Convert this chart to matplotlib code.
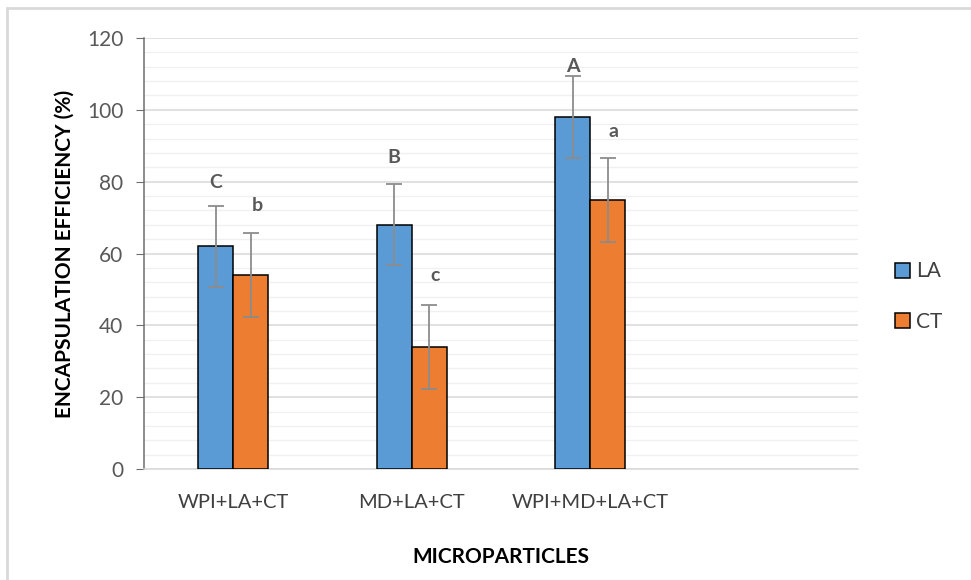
import matplotlib.pyplot as plt
import numpy as np
from matplotlib.patches import Rectangle
from matplotlib.ticker import MultipleLocator

plt.rcParams['font.family'] = ['Lato', 'DejaVu Sans']

categories = ['WPI+LA+CT', 'MD+LA+CT', 'WPI+MD+LA+CT', '']
la_values = [62, 68, 98]
ct_values = [54, 34, 75]
la_err = [11.3, 11.3, 11.3]
ct_err = [11.7, 11.7, 11.7]
la_letters = ['C', 'B', 'A']
ct_letters = ['b', 'c', 'a']

LA_COLOR = '#5B9BD5'
CT_COLOR = '#ED7D31'
TEXT_GRAY = '#595959'

fig = plt.figure(figsize=(9.71, 5.80), dpi=100)
fig.patch.set_facecolor('white')

# light chart-area frame
fig.patches.append(Rectangle((7 / 971, -0.01), 1.0, (580 - 8) / 580 + 0.01,
                             transform=fig.transFigure, fill=False,
                             edgecolor='#d9d9d9', linewidth=2))

ax = fig.add_axes([144 / 971, (580 - 469) / 580, (858 - 144) / 971, (469 - 38) / 580])

x = np.arange(len(la_values))
w = 0.196

ax.bar(x - w / 2, la_values, w, color=LA_COLOR, edgecolor='black', linewidth=1.1,
       label='LA', zorder=3)
ax.bar(x + w / 2, ct_values, w, color=CT_COLOR, edgecolor='black', linewidth=1.1,
       label='CT', zorder=3)
ax.errorbar(x - w / 2, la_values, yerr=la_err, fmt='none', ecolor='#8c8c8c',
            elinewidth=1.3, capsize=6, capthick=1.3, zorder=4)
ax.errorbar(x + w / 2, ct_values, yerr=ct_err, fmt='none', ecolor='#8c8c8c',
            elinewidth=1.3, capsize=6, capthick=1.3, zorder=4)

# significance letters sit a little above each error bar
la_gap = [6.4, 7.5, 2.8]
ct_gap = [7.6, 8.3, 7.4]
for i in range(len(la_values)):
    ax.text(x[i] - w / 2, la_values[i] + la_err[i] + la_gap[i], la_letters[i],
            ha='center', va='center', fontsize=14, fontweight='bold', color=TEXT_GRAY)
    ax.text(x[i] + w / 2 + 0.035, ct_values[i] + ct_err[i] + ct_gap[i], ct_letters[i],
            ha='center', va='center', fontsize=14, fontweight='bold', color=TEXT_GRAY)

ax.set_xlim(-0.5, 3.5)
ax.set_ylim(0, 120)
ax.set_xticks(np.arange(len(categories)))
ax.set_xticklabels(categories)
ax.yaxis.set_major_locator(MultipleLocator(20))
ax.yaxis.set_minor_locator(MultipleLocator(4))

ax.grid(axis='y', which='major', color='#d9d9d9', linewidth=1.1, zorder=0)
ax.grid(axis='y', which='minor', color='#f0f0f0', linewidth=1.0, zorder=0)
ax.set_axisbelow(True)

for side in ['top', 'right']:
    ax.spines[side].set_visible(False)
ax.spines['left'].set_color('#6e6e6e')
ax.spines['left'].set_linewidth(1.1)
ax.spines['bottom'].set_color('#d9d9d9')
ax.spines['bottom'].set_linewidth(1.1)

ax.tick_params(axis='y', which='major', length=6, color='#6e6e6e', labelsize=15,
               labelcolor=TEXT_GRAY, pad=9)
ax.tick_params(axis='y', which='minor', length=0)
ax.tick_params(axis='x', length=0, labelsize=14.5, labelcolor='#404040', pad=18)

ax.set_ylabel('ENCAPSULATION EFFICIENCY (%)', fontsize=15, fontweight='bold',
              color='black', labelpad=9)
ax.set_xlabel('MICROPARTICLES', fontsize=15, fontweight='bold', color='black', labelpad=26)

ax.legend(loc='center left', bbox_to_anchor=(1.025, 0.40), frameon=False, fontsize=15,
          handlelength=0.75, handleheight=0.75, labelspacing=1.45, handletextpad=0.3,
          labelcolor='#404040')

fig.savefig('out.png', dpi=100)
